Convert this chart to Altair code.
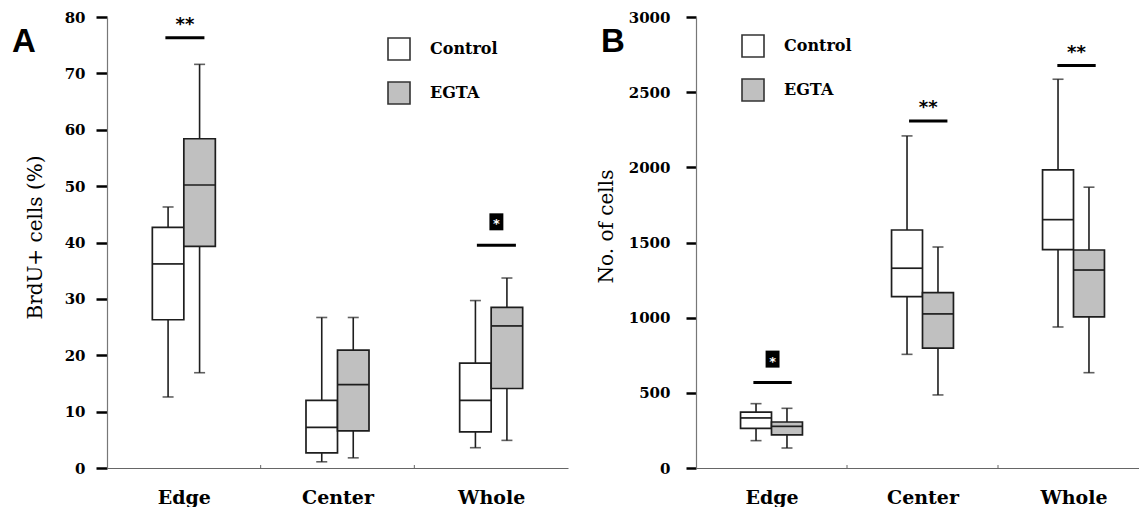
import json

import altair as alt
import pandas as pd

SERIF = "DejaVu Serif"
STROKE = "#1e1e1e"
GREY = "#c0c0c0"

categories = ["Edge", "Center", "Whole"]
groups = ["Control", "EGTA"]

# Five-number summaries per category: [low whisker, Q1, median, Q3, high whisker]
brdu_control = [[12.6, 26.3, 36.2, 42.7, 46.3],
                [1.1, 2.7, 7.2, 12.0, 26.7],
                [3.6, 6.4, 12.0, 18.6, 29.7]]
brdu_egta = [[16.9, 39.3, 50.2, 58.4, 71.6],
             [1.8, 6.6, 14.8, 20.9, 26.7],
             [4.9, 14.1, 25.2, 28.5, 33.7]]

cells_control = [[182, 264, 333, 372, 428],
                 [756, 1140, 1329, 1583, 2209],
                 [938, 1453, 1652, 1983, 2586]]
cells_egta = [[133, 220, 277, 306, 397],
              [486, 798, 1025, 1167, 1470],
              [634, 1005, 1317, 1450, 1868]]

# Significance bars: position on the category axis, bar level, label, boxed label
brdu_sig_pos = [0.507, 2.534]
brdu_sig_level = [76.3, 39.5]
brdu_sig_label = ["**", "*"]
brdu_sig_boxed = [False, True]

cells_sig_pos = [0.507, 1.538, 2.52]
cells_sig_level = [568, 2309, 2677]
cells_sig_label = ["*", "**", "**"]
cells_sig_boxed = [True, False, False]

BOX_W = 0.205      # box width in category units
SIG_HALF = 0.127   # half length of a significance bar
HEIGHT = 451


def box_frame(control, egta):
    rows = []
    for gi, (g, vals) in enumerate(zip(groups, [control, egta])):
        for ci, cat in enumerate(categories):
            lo, q1, med, q3, hi = vals[ci]
            c = ci + 0.5 + (gi - 0.5) * BOX_W
            rows.append(dict(category=cat, group=g, x=c, x0=c - BOX_W / 2,
                             x1=c + BOX_W / 2, lo=lo, q1=q1, med=med, q3=q3, hi=hi))
    return pd.DataFrame(rows)


def sig_frame(pos, level, label, boxed):
    df = pd.DataFrame(dict(pos=pos, level=level, label=label, boxed=boxed))
    df["x0"] = df["pos"] - SIG_HALF
    df["x1"] = df["pos"] + SIG_HALF
    return df


def panel(boxes, sig, letter, width, band_px, ymax, ystep, ytitle, title_x, title_y,
          tick_size, label_pad, legend_x, legend_y):
    xmax = width / band_px
    xs = alt.Scale(domain=[0, xmax], nice=False, zero=False)
    ys = alt.Scale(domain=[0, ymax], nice=False)
    x_axis = alt.Axis(
        values=[0.5, 1.5, 2.5],
        labelExpr=json.dumps(categories) + "[floor(datum.value)]",
        title=None, ticks=False, tickSize=0, grid=False,
        labelFont=SERIF, labelFontWeight="bold", labelFontSize=19,
        labelColor="black", labelPadding=20,
        domainColor="#666", domainWidth=1.2,
    )
    y_axis = alt.Axis(
        values=list(range(0, ymax + 1, ystep)), format="d", grid=False,
        title=ytitle, titleFont=SERIF, titleFontSize=20, titleFontWeight="normal",
        titleColor="black", titleX=title_x, titleY=title_y, titleBaseline="middle",
        labelFont=SERIF, labelFontWeight="bold", labelFontSize=15,
        labelColor="black", labelPadding=label_pad,
        tickSize=tick_size, tickWidth=2.5, tickColor="black",
        domainColor="#777", domainWidth=1.2,
    )

    def X(field):
        return alt.X(field, scale=xs, axis=x_axis)

    def Y(field):
        return alt.Y(field, scale=ys, axis=y_axis)

    base = alt.Chart(boxes)
    whiskers = base.mark_rule(color=STROKE, strokeWidth=1.6).encode(
        x=X("x:Q"), y=Y("lo:Q"), y2="hi:Q")
    cap_lo = base.mark_tick(orient="horizontal", size=11, thickness=1.6, color=STROKE).encode(
        x=X("x:Q"), y=Y("lo:Q"))
    cap_hi = base.mark_tick(orient="horizontal", size=11, thickness=1.6, color=STROKE).encode(
        x=X("x:Q"), y=Y("hi:Q"))
    rects = base.mark_rect(stroke=STROKE, strokeWidth=1.7).encode(
        x=X("x0:Q"), x2="x1:Q", y=Y("q1:Q"), y2="q3:Q",
        fill=alt.Fill(
            "group:N",
            scale=alt.Scale(domain=groups, range=["white", GREY]),
            legend=alt.Legend(
                title=None, orient="none", legendX=legend_x, legendY=legend_y,
                direction="vertical", padding=0,
                symbolType="square", symbolSize=484,
                symbolStrokeColor="#333", symbolStrokeWidth=1.6,
                labelFont=SERIF, labelFontSize=16, labelFontWeight="bold",
                labelColor="black", labelOffset=19, rowPadding=14,
            ),
        ),
    )
    medians = base.mark_rule(color=STROKE, strokeWidth=1.7).encode(
        x=X("x0:Q"), x2="x1:Q", y=Y("med:Q"))

    # small marks on the category axis between bands
    bounds = alt.Chart(pd.DataFrame({"b": [1, 2]})).mark_rule(color="#666", strokeWidth=1).encode(
        x=X("b:Q"), y=alt.value(HEIGHT), y2=alt.value(HEIGHT - 3))

    sig_plain = sig[~sig["boxed"]]
    sig_boxed = sig[sig["boxed"]]
    bars = alt.Chart(sig).mark_rule(color="black", strokeWidth=3).encode(
        x=X("x0:Q"), x2="x1:Q", y=Y("level:Q"))
    stars = alt.Chart(sig_plain).mark_text(
        font="DejaVu Sans", fontWeight="bold", fontSize=18, color="black",
        baseline="alphabetic", dy=-8).encode(
        x=X("pos:Q"), y=Y("level:Q"), text="label:N")
    star_box = alt.Chart(sig_boxed).mark_point(
        shape="M-0.82,-1H0.82V1H-0.82Z", size=289, filled=True, color="black",
        opacity=1, yOffset=-23.5).encode(x=X("pos:Q"), y=Y("level:Q"))
    star_box_text = alt.Chart(sig_boxed).mark_text(
        font="DejaVu Sans", fontWeight="bold", fontSize=13, color="white",
        baseline="alphabetic", dy=-17).encode(
        x=X("pos:Q"), y=Y("level:Q"), text="label:N")

    tag = alt.Chart(pd.DataFrame({"t": [letter]})).mark_text(
        font="Liberation Sans", fontWeight="bold", fontSize=33, color="black",
        align="left", baseline="alphabetic").encode(
        x=alt.value(-95), y=alt.value(35), text="t:N")

    return alt.layer(whiskers, cap_lo, cap_hi, rects, medians, bounds,
                     bars, stars, star_box, star_box_text, tag).properties(
        width=width, height=HEIGHT)


panel_a = panel(box_frame(brdu_control, brdu_egta),
                sig_frame(brdu_sig_pos, brdu_sig_level, brdu_sig_label, brdu_sig_boxed),
                "A", 461, 461 / 3, 80, 10, "BrdU+ cells (%)", -72, 220, 11, 11, 280, 20)
panel_b = panel(box_frame(cells_control, cells_egta),
                sig_frame(cells_sig_pos, cells_sig_level, cells_sig_label, cells_sig_boxed),
                "B", 443, 151, 3000, 500, "No. of cells", -90, 209, 10, 16, 45, 17)

chart = alt.hconcat(panel_a, panel_b, spacing=128, bounds="flush").resolve_scale(
    fill="independent", x="independent", y="independent"
).properties(
    padding={"left": 12, "top": 10, "right": 0, "bottom": 0},
    background="white",
).configure_view(stroke=None)

chart.save("out.html", embed_options={"renderer": "svg", "actions": False})
